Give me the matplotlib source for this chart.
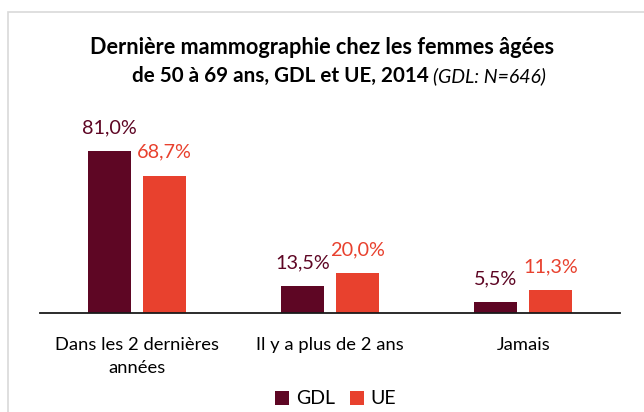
import numpy as np
import matplotlib
matplotlib.use("Agg")
import matplotlib.pyplot as plt
from matplotlib.patches import Rectangle

categories = ["Dans les 2 dernières\nannées", "Il y a plus de 2 ans", "Jamais"]
gdl = [81.0, 13.5, 5.5]
ue = [68.7, 20.0, 11.3]
series_names = ["GDL", "UE"]

c_gdl = "#5E0624"
c_ue = "#E8412E"

plt.rcParams['font.family'] = ['Lato', 'DejaVu Sans']

W, H = 644, 412
fig = plt.figure(figsize=(W / 100, H / 100), dpi=100)

# light frame of the chart area
fig.patches.append(Rectangle((8 / W, -0.1), 1.2, 1 - 12 / H + 0.1, transform=fig.transFigure,
                             fill=False, edgecolor="#D9D9D9", linewidth=1.2))

ax = fig.add_axes([40 / W, 99 / H, 580 / W, 200 / H])
x = np.arange(len(categories))
bw = 0.222
off = 0.142
b1 = ax.bar(x - off, gdl, bw, color=c_gdl, label=series_names[0])
b2 = ax.bar(x + off, ue, bw, color=c_ue, label=series_names[1])

def fmt(v):
    return f"{v:.1f}%".replace(".", ",")

for xi, v in zip(x, gdl):
    ax.text(xi - off, v + 9, fmt(v), ha="center", va="baseline", color=c_gdl, fontsize=14.3)
for xi, v in zip(x, ue):
    ax.text(xi + off, v + 9, fmt(v), ha="center", va="baseline", color=c_ue, fontsize=14.3)

ax.set_xlim(-0.5, 2.5)
ax.set_ylim(0, 100)
ax.set_xticks(x)
ax.set_xticklabels(categories, fontsize=13.2, linespacing=1.6)
ax.tick_params(axis="x", length=0, pad=17)
ax.set_yticks([])
for s in ["top", "right", "left"]:
    ax.spines[s].set_visible(False)
ax.spines["bottom"].set_color("#1a1a1a")
ax.spines["bottom"].set_linewidth(1.3)

leg = fig.legend(handles=[b1, b2], loc="center", bbox_to_anchor=(0.521, 13 / H),
                 ncol=2, frameon=False, fontsize=14, handlelength=0.72, handleheight=0.72,
                 handletextpad=0.35, columnspacing=0.75, borderpad=0)

# title
fig.text(0.5, 1 - 48 / H, "Dernière mammographie chez les femmes âgées", ha="center", va="center",
         fontsize=15.6, fontweight="bold")
r = fig.canvas.get_renderer()
t_a = fig.text(0, 1 - 76 / H, "de 50 à 69 ans, GDL et UE, 2014 ", ha="left", va="center",
               fontsize=14.9, fontweight="bold")
t_b = fig.text(0, 1 - 76 / H, "(GDL: N=646)", ha="left", va="center",
               fontsize=14, style="italic")
wa = t_a.get_window_extent(r).width
wb = t_b.get_window_extent(r).width
start = (W - wa - wb) / 2 + 17
t_a.set_x(start / W)
t_b.set_x((start + wa) / W)

fig.savefig("out.png", dpi=100)
